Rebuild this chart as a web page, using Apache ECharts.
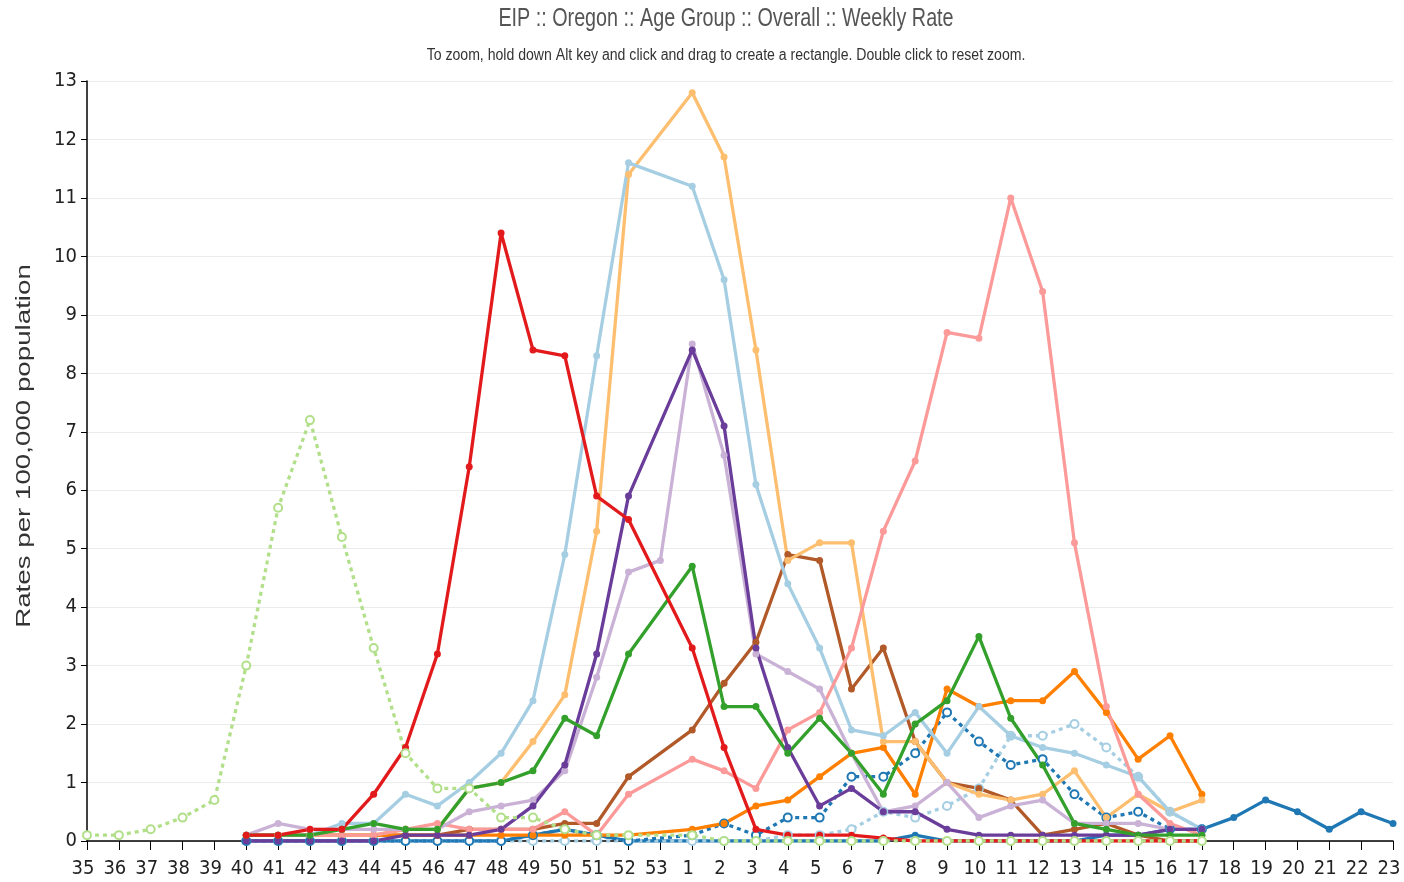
<!DOCTYPE html>
<html>
<head>
<meta charset="utf-8">
<title>EIP :: Oregon :: Age Group :: Overall :: Weekly Rate</title>
<script src="https://cdn.jsdelivr.net/npm/echarts@6/dist/echarts.min.js"></script>
<style>
    html, body { margin: 0; padding: 0; background: #fff; }
    #chart { width: 1404px; height: 882px; }
</style>
</head>
<body>
<div id="chart"></div>
<script>
    var N = null;

    // MMWR weeks, season runs 35 .. 53, then 1 .. 23
    var weeks = ['35','36','37','38','39','40','41','42','43','44','45','46','47','48','49','50','51','52','53',
                 '1','2','3','4','5','6','7','8','9','10','11','12','13','14','15','16','17','18','19','20','21','22','23'];

    // rates per 100,000 (null = no week reported)
    //             35-39              40 ........................................................ 53     1 ........................................................................ 17    18-23
    var red         = [N,N,N,N,N, 0.1,0.1,0.2,0.2,0.8,1.6,3.2,6.4,10.4,8.4,8.3,5.9,5.5,N, 3.3,1.6,0.2,0.1,0.1,0.1,0.05,0,0,0,0,0,0,0,0,0,0, N,N,N,N,N,N];
    var lightBlue   = [N,N,N,N,N, 0.1,0.1,0.1,0.3,0.3,0.8,0.6,1.0,1.5,2.4,4.9,8.3,11.6,N, 11.2,9.6,6.1,4.4,3.3,1.9,1.8,2.2,1.5,2.3,1.8,1.6,1.5,1.3,1.1,0.5,0.2, N,N,N,N,N,N];
    var lightOrange = [N,N,N,N,N, 0.1,0.1,0.1,0.1,0.1,0.2,0.2,0.9,1.0,1.7,2.5,5.3,11.4,N, 12.8,11.7,8.4,4.8,5.1,5.1,1.7,1.7,1.0,0.8,0.7,0.8,1.2,0.4,0.8,0.5,0.7, N,N,N,N,N,N];
    var orange      = [N,N,N,N,N, 0.1,0.1,0.1,0.1,0.1,0.1,0.1,0.1,0.1,0.1,0.1,0.1,0.1,N, 0.2,0.3,0.6,0.7,1.1,1.5,1.6,0.8,2.6,2.3,2.4,2.4,2.9,2.2,1.4,1.8,0.8, N,N,N,N,N,N];
    var green       = [N,N,N,N,N, 0.1,0.1,0.1,0.2,0.3,0.2,0.2,0.9,1.0,1.2,2.1,1.8,3.2,N, 4.7,2.3,2.3,1.5,2.1,1.5,0.8,2.0,2.4,3.5,2.1,1.3,0.3,0.2,0.1,0.1,0.1, N,N,N,N,N,N];
    var pink        = [N,N,N,N,N, 0.1,0.1,0.1,0.1,0.1,0.2,0.3,0.2,0.2,0.2,0.5,0.1,0.8,N, 1.4,1.2,0.9,1.9,2.2,3.3,5.3,6.5,8.7,8.6,11.0,9.4,5.1,2.3,0.8,0.3,0.1, N,N,N,N,N,N];
    var lightPurple = [N,N,N,N,N, 0.1,0.3,0.2,0.2,0.2,0.2,0.2,0.5,0.6,0.7,1.2,2.8,4.6,4.8, 8.5,6.6,3.2,2.9,2.6,1.5,0.5,0.6,1.0,0.4,0.6,0.7,0.3,0.3,0.3,0.2,0.2, N,N,N,N,N,N];
    var purple      = [N,N,N,N,N, 0,0,0,0,0,0.1,0.1,0.1,0.2,0.6,1.3,3.2,5.9,N, 8.4,7.1,3.3,1.6,0.6,0.9,0.5,0.5,0.2,0.1,0.1,0.1,0.1,0.1,0.1,0.2,0.2, N,N,N,N,N,N];
    var brown       = [N,N,N,N,N, 0.1,0.1,0.1,0.1,0.1,0.1,0.1,0.2,0.2,0.2,0.3,0.3,1.1,N, 1.9,2.7,3.4,4.9,4.8,2.6,3.3,1.7,1.0,0.9,0.7,0.1,0.2,0.3,0.1,0,0, N,N,N,N,N,N];
    var darkBlue    = [N,N,N,N,N, 0,0,0,0,0,0,0,0,0,0.1,0.2,0.1,0,N, 0,0,0,0,0,0,0,0.1,0,0,0,0,0,0.1,0.1,0.2,0.2, 0.4,0.7,0.5,0.2,0.5,0.3];
    var darkBlueDot = [N,N,N,N,N, 0,0,0,0,0,0,0,0,0,0.1,0.2,0.1,0,N, 0.1,0.3,0.1,0.4,0.4,1.1,1.1,1.5,2.2,1.7,1.3,1.4,0.8,0.4,0.5,0.2,0.2, N,N,N,N,N,N];
    var lightBlueDot= [N,N,N,N,N, 0,0,0,0,0,0,0,0,0,0,0,0,0,N, 0,0,0,0.1,0.1,0.2,0.5,0.4,0.6,0.9,1.8,1.8,2.0,1.6,1.1,0.5,0.2, N,N,N,N,N,N];
    var lightGreenDot=[0.1,0.1,0.2,0.4,0.7, 3.0,5.7,7.2,5.2,3.3,1.5,0.9,0.9,0.4,0.4,0.2,0.1,0.1,N, 0.1,0,0,0,0,0,0,0,0,0,0,0,0,0,0,0,0, N,N,N,N,N,N];

    var narrow = "'DejaVu Sans Condensed', 'Liberation Sans Narrow', 'Arial Narrow', 'Liberation Sans', sans-serif";

    // [name, values, color, dotted]  -- drawn in this order, last on top
    var lines = [
        ['s01', darkBlue,      '#1f78b4', false],
        ['s02', lightBlueDot,  '#a6cee3', true],
        ['s03', darkBlueDot,   '#1f78b4', true],
        ['s04', brown,         '#b15928', false],
        ['s05', orange,        '#ff7f00', false],
        ['s06', lightOrange,   '#fdbf6f', false],
        ['s07', lightBlue,     '#a6cee3', false],
        ['s08', pink,          '#fb9a99', false],
        ['s09', lightPurple,   '#cab2d6', false],
        ['s10', purple,        '#6a3d9a', false],
        ['s11', green,         '#33a02c', false],
        ['s12', red,           '#e31a1c', false],
        ['s13', lightGreenDot, '#b2df8a', true]
    ];

    var series = lines.map(function (l) {
        return {
            name: l[0],
            type: 'line',
            data: l[1],
            connectNulls: true,
            showAllSymbol: true,
            symbol: l[3] ? 'emptyCircle' : 'circle',
            symbolSize: l[3] ? 8 : 7,
            itemStyle: { color: l[2], borderColor: l[2], borderWidth: l[3] ? 2 : 0 },
            lineStyle: { color: l[2], width: 3.3, type: l[3] ? [4, 4] : 'solid' }
        };
    });

    var chart = echarts.init(document.getElementById('chart'));
    chart.setOption({
        animation: false,
        backgroundColor: '#fff',
        // the original titles are set in a condensed face, squeeze them horizontally
        graphic: [
            {
                type: 'text', x: 726, y: 19, scaleX: 0.79,
                style: {
                    text: 'EIP :: Oregon :: Age Group :: Overall :: Weekly Rate',
                    font: '25px "Liberation Sans", Arial, sans-serif',
                    fill: '#555', textAlign: 'center', textVerticalAlign: 'middle'
                }
            },
            {
                type: 'text', x: 726, y: 56, scaleX: 0.88,
                style: {
                    text: 'To zoom, hold down Alt key and click and drag to create a rectangle. Double click to reset zoom.',
                    font: '16px "Liberation Sans", Arial, sans-serif',
                    fill: '#333', textAlign: 'center', textVerticalAlign: 'middle'
                }
            },
            {
                type: 'text', x: 24, y: 446, rotation: Math.PI / 2, scaleX: 1.32,
                style: {
                    text: 'Rates per 100,000 population',
                    font: '21px "Liberation Sans", Arial, sans-serif',
                    fill: '#333', textAlign: 'center', textVerticalAlign: 'middle'
                }
            }
        ],
        grid: { left: 87, right: 11, top: 81, bottom: 41 },
        xAxis: {
            type: 'category',
            data: weeks,
            boundaryGap: false,
            axisLine: { lineStyle: { color: '#000', width: 1.5 } },
            axisTick: { show: true, length: 9, interval: 0, lineStyle: { color: '#000' } },
            axisLabel: { interval: 0, margin: 18, padding: [0, 8, 0, 0], fontFamily: narrow, fontSize: 20, color: '#222' },
            splitLine: { show: false }
        },
        yAxis: {
            type: 'value',
            min: 0,
            max: 13,
            interval: 1,
            axisLine: { show: true, lineStyle: { color: '#000', width: 1.5 } },
            axisTick: { show: true, length: 6, lineStyle: { color: '#000' } },
            axisLabel: { margin: 10, fontFamily: narrow, fontSize: 20, color: '#222' },
            splitLine: { lineStyle: { color: '#ebebeb', width: 1 } }
        },
        series: series
    });
</script>
</body>
</html>
